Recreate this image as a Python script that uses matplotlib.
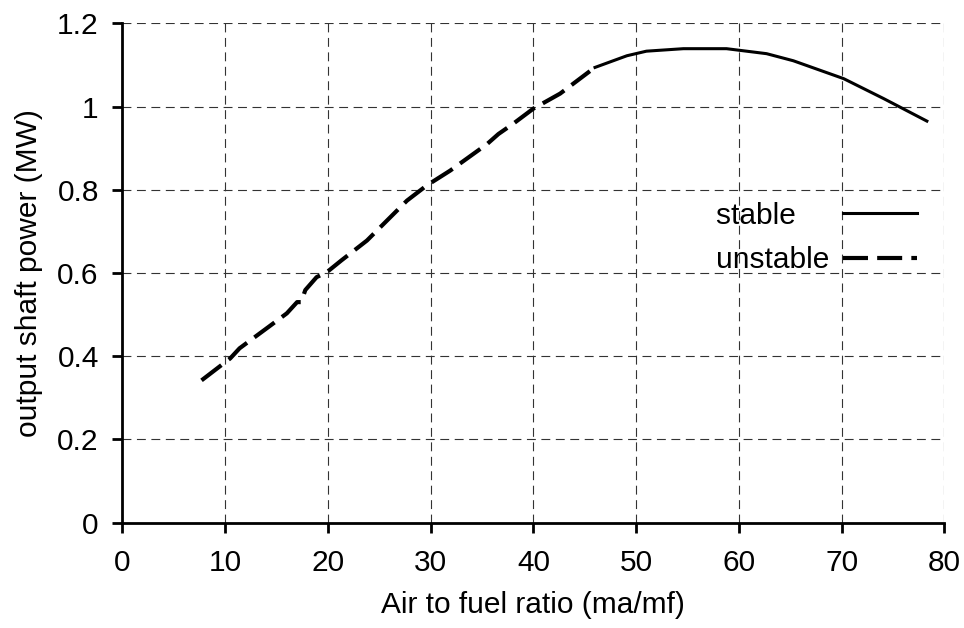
import matplotlib
matplotlib.use('Agg')
import matplotlib.pyplot as plt

# Output shaft power vs. air/fuel ratio
unstable_x = [7.7, 10.5, 11.4, 14.2, 16.0, 17.0, 17.4, 17.8, 18.9, 19.9, 21.3, 23.8,
              27.7, 29.6, 31.9, 35.5, 36.6, 38.0, 40.0, 42.6, 45.5]
unstable_y = [0.342, 0.395, 0.419, 0.470, 0.503, 0.530, 0.530, 0.559, 0.590, 0.602, 0.630, 0.678,
              0.774, 0.810, 0.846, 0.910, 0.934, 0.958, 0.995, 1.031, 1.085]
stable_x = [46.0, 49.1, 51.0, 54.6, 58.8, 62.7, 65.3, 70.2, 74.1, 78.3]
stable_y = [1.094, 1.122, 1.133, 1.139, 1.139, 1.127, 1.110, 1.067, 1.019, 0.965]

x_ticks = [0, 10, 20, 30, 40, 50, 60, 70, 80]
y_ticks = [0, 0.2, 0.4, 0.6, 0.8, 1.0, 1.2]
y_ticklabels = ['0', '0.2', '0.4', '0.6', '0.8', '1', '1.2']

plt.rcParams['font.family'] = ['Liberation Sans', 'DejaVu Sans']
fs = 21.5

fig = plt.figure(figsize=(9.64, 6.28), dpi=100)
ax = fig.add_axes([0.127, 0.1677, 0.8526, 0.7952])

ax.plot(stable_x, stable_y, color='black', lw=2.2, solid_joinstyle='round',
        label='stable')
ax.plot(unstable_x, unstable_y, color='black', lw=3.0, linestyle=(0, (6, 2.2)),
        label='unstable')

ax.set_xlim(0, 80)
ax.set_ylim(0, 1.2)
ax.set_xticks(x_ticks)
ax.set_yticks(y_ticks)
ax.set_yticklabels(y_ticklabels)

# dashed grid, also closes the box on top and right
ax.grid(True, color='#333333', lw=0.8, linestyle=(0, (8, 5)))
ax.set_axisbelow(True)
for side in ['top', 'right']:
    ax.spines[side].set_visible(False)
for side in ['left', 'bottom']:
    ax.spines[side].set_linewidth(2.0)
ax.tick_params(direction='out', length=7, width=2.0, labelsize=fs)
ax.tick_params(axis='x', pad=12)
ax.tick_params(axis='y', pad=10)

ax.set_xlabel('Air to fuel ratio (ma/mf)', fontsize=fs, labelpad=10)
ax.set_ylabel('output shaft power (MW)', fontsize=fs, labelpad=10)

# labels padded to equal width so the text column lines up on the left
handles, labels = ax.get_legend_handles_labels()
labels = ['stable    ', 'unstable']
ax.legend(handles, labels, loc='upper left', bbox_to_anchor=(0.722, 0.643),
          frameon=False, markerfirst=False, fontsize=fs, handlelength=2.5,
          handletextpad=0.45, labelspacing=0.55, borderpad=0, borderaxespad=0)

fig.savefig('out.png', dpi=100)
